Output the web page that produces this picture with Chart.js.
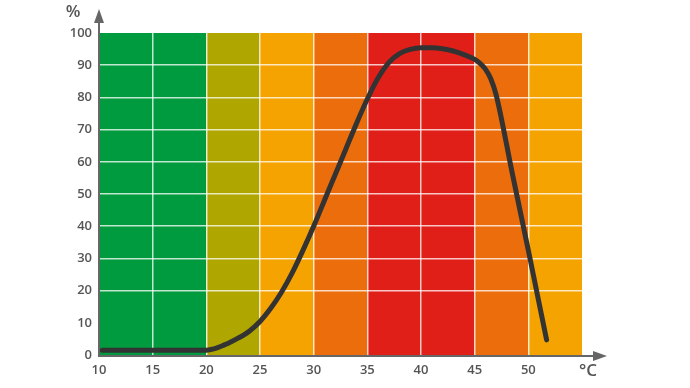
<!DOCTYPE html>
<html>
<head>
<meta charset="utf-8">
<script src="https://cdn.jsdelivr.net/npm/chart.js@4.4.1/dist/chart.umd.min.js"></script>
<style>
  html, body { margin: 0; padding: 0; background: #fff; }
  #wrap { position: relative; width: 690px; height: 388px; }
</style>
</head>
<body>
<div id="wrap"><canvas id="chart" width="690" height="388"></canvas></div>
<script>
// temperature (°C) vs %
const tempC = [10.3, 20, 21, 22, 23, 24, 25, 26, 27, 28, 29, 30, 31, 32, 33, 34, 35, 36, 37, 38, 39, 40, 41, 42, 43, 44, 45, 45.5, 46, 46.5, 47, 48.5, 50, 51.7];
const pct   = [1.5, 1.5, 2.2, 3.6, 5.3, 7.4, 10.4, 14.5, 19.5, 25.5, 32.5, 40, 48, 56, 64, 72, 79.5, 86, 90.8, 93.6, 94.9, 95.4, 95.4, 95.1, 94.4, 93.3, 91.8, 90.6, 88.8, 85.8, 80.8, 56.5, 32.5, 4.7];

// colour bands along x
const bandFrom = [10, 20, 25, 30, 35, 45, 50];
const bandTo   = [20, 25, 30, 35, 45, 50, 55];
const bandColor = ['#009b3e', '#b0a600', '#f5a300', '#ec6d0b', '#e11f19', '#ec6d0b', '#f5a300'];

const xMin = 10, xMax = 55, yMin = 0, yMax = 100;
const axisGrey = '#666';
const labelGrey = '#555';

const bandsPlugin = {
  id: 'bands',
  beforeDraw(c) {
    const { ctx, scales: { x, y } } = c;
    ctx.save();
    bandFrom.forEach((f, i) => {
      const x0 = x.getPixelForValue(f);
      const x1 = x.getPixelForValue(bandTo[i]);
      ctx.fillStyle = bandColor[i];
      ctx.fillRect(x0, y.getPixelForValue(yMax), x1 - x0, y.getPixelForValue(yMin) - y.getPixelForValue(yMax));
    });
    ctx.restore();
  },
};

const axesPlugin = {
  id: 'arrows',
  afterDraw(c) {
    const { ctx, scales: { x, y } } = c;
    const ox = x.getPixelForValue(xMin);
    const oy = y.getPixelForValue(yMin) + 1;
    ctx.save();
    ctx.strokeStyle = axisGrey;
    ctx.fillStyle = axisGrey;
    ctx.lineWidth = 2;
    ctx.beginPath();
    ctx.moveTo(ox, oy);
    ctx.lineTo(ox, 20);
    ctx.moveTo(ox - 1, oy);
    ctx.lineTo(595, oy);
    ctx.stroke();
    // arrow heads
    ctx.beginPath();
    ctx.moveTo(ox, 9);
    ctx.lineTo(ox - 5, 23);
    ctx.lineTo(ox + 5, 23);
    ctx.closePath();
    ctx.fill();
    ctx.beginPath();
    ctx.moveTo(607, oy);
    ctx.lineTo(593, oy - 5);
    ctx.lineTo(593, oy + 5);
    ctx.closePath();
    ctx.fill();
    // unit labels
    ctx.font = '600 17px "Open Sans", sans-serif';
    ctx.fillStyle = labelGrey;
    ctx.textAlign = 'center';
    ctx.textBaseline = 'middle';
    ctx.fillText('%', 73, 12);
    ctx.fillText('°C', 588, 371);
    ctx.restore();
  },
};

const gridColor = (ctx) => {
  const v = ctx.tick && ctx.tick.value;
  if (v === xMin || v === xMax || v === yMin || v === yMax) return 'rgba(0,0,0,0)';
  return 'rgba(255,255,255,0.75)';
};

new Chart(document.getElementById('chart').getContext('2d'), {
  type: 'line',
  data: {
    datasets: [
      {
        data: tempC.map((t, i) => ({ x: t, y: pct[i] })),
        borderColor: '#333333',
        borderWidth: 5,
        borderCapStyle: 'round',
        borderJoinStyle: 'round',
        pointRadius: 0,
        cubicInterpolationMode: 'monotone',
        fill: false,
      },
    ],
  },
  options: {
    responsive: false,
    animation: false,
    layout: { padding: { top: 33, right: 108, left: 0, bottom: 0 } },
    scales: {
      x: {
        type: 'linear',
        min: xMin,
        max: xMax,
        afterFit: (s) => { s.height = 33; },
        border: { display: false },
        grid: { color: gridColor, lineWidth: 1.5, drawTicks: false },
        ticks: {
          stepSize: 5,
          padding: 7,
          color: labelGrey,
          font: { family: '"Open Sans", sans-serif', size: 13, weight: '600' },
          callback: (v) => (v === xMax ? '' : v),
        },
      },
      y: {
        min: yMin,
        max: yMax,
        afterFit: (s) => { s.width = 99; },
        border: { display: false },
        grid: { color: gridColor, lineWidth: 1.5, drawTicks: false },
        ticks: {
          stepSize: 10,
          padding: 7,
          color: labelGrey,
          font: { family: '"Open Sans", sans-serif', size: 13, weight: '600' },
        },
      },
    },
    plugins: {
      legend: { display: false },
      tooltip: { enabled: false },
    },
  },
  plugins: [bandsPlugin, axesPlugin],
});
</script>
</body>
</html>
